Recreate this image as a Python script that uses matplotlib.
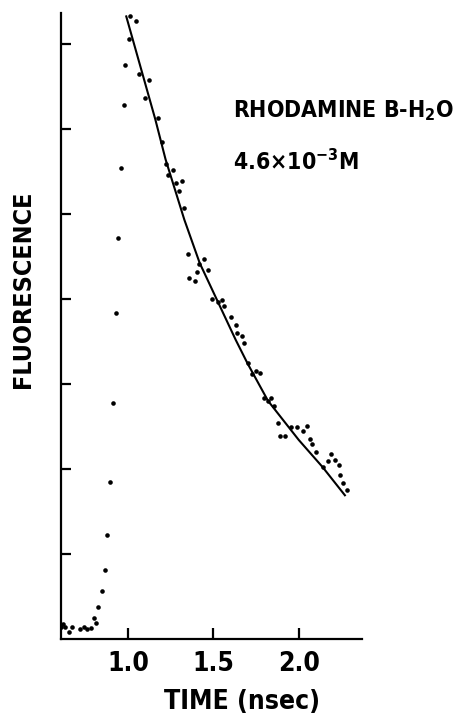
import numpy as np
import matplotlib
matplotlib.use('Agg')
import matplotlib.pyplot as plt

# condensed bold DejaVu is the closest to the old lettering
plt.rcParams['font.family'] = ['DejaVu Sans']
plt.rcParams['font.stretch'] = 'condensed'
plt.rcParams['font.weight'] = 'bold'
plt.rcParams['mathtext.default'] = 'regular'

# measured points (time in nsec, fluorescence in tick units)
t_pts = [0.608, 0.620, 0.634, 0.653, 0.673, 0.719, 0.744, 0.758, 0.784,
         0.801, 0.811, 0.826, 0.846, 0.865, 0.875, 0.895, 0.914, 0.930, 0.943,
         0.959, 0.975, 0.981, 1.008, 1.013, 1.047, 1.063, 1.123, 1.099, 1.177,
         1.199, 1.220, 1.265, 1.234, 1.281, 1.318, 1.298, 1.327,
         1.353, 1.446, 1.415, 1.470, 1.402, 1.357, 1.392, 1.491, 1.551, 1.530,
         1.561, 1.606, 1.630, 1.641, 1.668, 1.682, 1.700, 1.749, 1.772, 1.725,
         1.799, 1.836, 1.820, 1.856, 1.879, 1.957, 1.987, 2.047, 2.022, 1.889,
         1.918, 2.064, 2.080, 2.098, 2.171, 2.187, 2.215, 2.236, 2.142, 2.240,
         2.259, 2.282]
f_pts = [0.145, 0.173, 0.145, 0.086, 0.138, 0.114, 0.138, 0.114, 0.126,
         0.25, 0.185, 0.38, 0.56, 0.81, 1.22, 1.85, 2.77, 3.83, 4.71,
         5.54, 6.28, 6.75, 7.06, 7.33, 7.27, 6.64, 6.57, 6.36, 6.12,
         5.84, 5.58, 5.51, 5.45, 5.36, 5.38, 5.27, 5.07,
         4.53, 4.47, 4.41, 4.34, 4.31, 4.24, 4.21, 4.00, 3.98, 3.96,
         3.91, 3.78, 3.69, 3.60, 3.56, 3.48, 3.24, 3.15, 3.13, 3.11,
         2.83, 2.83, 2.80, 2.74, 2.54, 2.49, 2.49, 2.50, 2.44, 2.39,
         2.39, 2.35, 2.29, 2.20, 2.09, 2.17, 2.11, 2.04, 2.02, 1.93,
         1.83, 1.75]

# fitted decay curve
t_fit = [0.99, 1.16, 1.22, 1.33, 1.42, 1.63, 1.70, 1.82, 2.00, 2.14, 2.27]
f_fit = [7.32, 6.11, 5.64, 4.93, 4.42, 3.52, 3.24, 2.80, 2.34, 2.02, 1.69]

xticks = [1.0, 1.5, 2.0]
xlabels = ['1.0', '1.5', '2.0']

fig = plt.figure(figsize=(4.56, 7.15), dpi=100)
ax = fig.add_axes([0.1338, 0.1063, 0.660, 0.8755])

ax.plot(t_fit, f_fit, color='black', lw=1.5)
ax.plot(t_pts, f_pts, 'o', color='black', ms=3.3, mec='none')

ax.set_xlim(0.608, 2.37)
ax.set_ylim(0, 7.36)
for s in ['top', 'right']:
    ax.spines[s].set_visible(False)
for s in ['left', 'bottom']:
    ax.spines[s].set_linewidth(1.6)

ax.set_xticks(xticks)
ax.set_xticklabels(xlabels, fontsize=19, fontweight='bold')
ax.set_yticks(range(1, 8))
ax.set_yticklabels([])
ax.tick_params(axis='x', direction='in', length=8, width=1.6, pad=9)
ax.tick_params(axis='y', direction='in', length=7, width=1.6)

ax.set_xlabel('TIME (nsec)', fontsize=19, fontweight='bold')
ax.xaxis.set_label_coords(0.601, -0.08)
ax.set_ylabel('FLUORESCENCE', fontsize=18, fontweight='bold')
ax.yaxis.set_label_coords(-0.088, 0.559)

fig.text(233 / 456, 1 - 117 / 715, 'RHODAMINE B-H$_2$O', fontsize=16.5,
         fontweight='bold', ha='left', va='baseline')
fig.text(233 / 456, 1 - 170 / 715, '4.6×10$^{-3}$M', fontsize=16.5,
         fontweight='bold', ha='left', va='baseline')

fig.savefig('out.png', dpi=100, facecolor='white')
